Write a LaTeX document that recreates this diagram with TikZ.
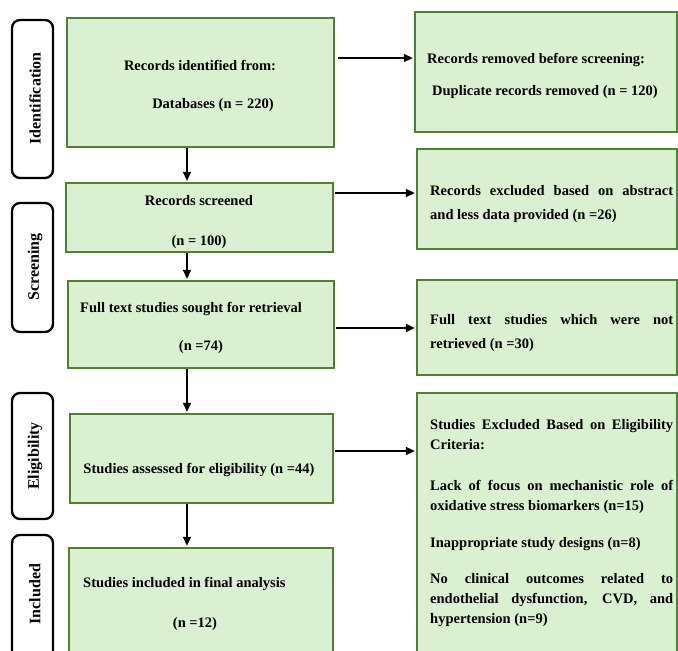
\documentclass[tikz,border=0pt]{standalone}
\usepackage{fontspec}
\setmainfont{Liberation Serif}
\usetikzlibrary{arrows.meta}
\definecolor{boxfill}{RGB}{219,240,208}
\definecolor{boxline}{RGB}{80,128,50}
\begin{document}
\begin{tikzpicture}[x=1pt,y=-1pt,
  box/.style={draw=boxline, fill=boxfill, line width=2.3pt, inner sep=0pt},
  phase/.style={draw=black, line width=2.3pt, rounded corners=8pt, inner sep=0pt, minimum width=41pt},
  lbl/.style={font=\bfseries\fontsize{14.5}{20}\selectfont, inner sep=0pt},
  plbl/.style={font=\bfseries\fontsize{16}{20}\selectfont, inner sep=0pt, rotate=90},
  rtext/.style={lbl, text width=243pt, align=justify},
  arr/.style={-{Triangle[length=9pt,width=8pt]}, line width=1.4pt, black, shorten >=1pt}
]
\useasboundingbox (0,0) rectangle (678,651);
\clip (0,0) rectangle (678,651);

% phase labels
\node[phase, minimum height=158pt] (p1) at (32.5,99) {};
\node[phase, minimum height=129pt] (p2) at (32.5,267.5) {};
\node[phase, minimum height=126pt] (p3) at (32.5,456) {};
\node[phase, minimum height=145pt] (p4) at (32.5,607.5) {};
\node[plbl] (p1t) at (35,98.5) {Identification};
\node[plbl] (p2t) at (35,267) {Screening};
\node[plbl] (p3t) at (35,456) {Eligibility};
\node[plbl] (p4t) at (35,594) {Included};

% left boxes
\node[box, minimum width=267pt, minimum height=129pt] (b1) at (200.5,82.5) {};
\node[box, minimum width=267pt, minimum height=69pt] (b2) at (199.5,217.5) {};
\node[box, minimum width=266pt, minimum height=87pt] (b3) at (201,324.5) {};
\node[box, minimum width=263pt, minimum height=89pt] (b4) at (201.5,458.5) {};
\node[box, minimum width=264pt, minimum height=132pt] (b5) at (201,614) {};

% right boxes
\node[box, minimum width=262pt, minimum height=120pt] (r1) at (546,72) {};
\node[box, minimum width=260pt, minimum height=100pt] (r2) at (547,199) {};
\node[box, minimum width=260pt, minimum height=95pt] (r3) at (547,327.5) {};
\node[box, minimum width=260pt, minimum height=287pt] (r4) at (547,536.5) {};

% left texts
\node[lbl, anchor=base] (b1a) at (200,70) {Records identified from:};
\node[lbl, anchor=base] (b1b) at (213,108) {Databases (n = 220)};
\node[lbl, anchor=base] (b2a) at (199,205) {Records screened};
\node[lbl, anchor=base] (b2b) at (199,245) {(n = 100)};
\node[lbl, anchor=base west] (b3a) at (80,312) {Full text studies sought for retrieval};
\node[lbl, anchor=base] (b3b) at (201,350) {(n =74)};
\node[lbl, anchor=base] (b4a) at (199,473) {Studies assessed for eligibility (n =44)};
\node[lbl, anchor=base west] (b5a) at (83,587) {Studies included in final analysis};
\node[lbl, anchor=base] (b5b) at (195,627) {(n =12)};

% right texts
\node[lbl, anchor=base west] (r1a) at (427,63) {Records removed before screening:};
\node[lbl, anchor=base west] (r1b) at (432,95) {Duplicate records removed (n = 120)};
\node[rtext, anchor=north west, font=\bfseries\fontsize{14.5}{23.5}\selectfont] (r2t) at (430,185.5)
  {Records excluded based on abstract\linebreak and less data provided (n =26)};
\node[rtext, anchor=north west, font=\bfseries\fontsize{14.5}{24}\selectfont] (r3t) at (430,314.5)
  {Full text studies which were not\linebreak retrieved (n =30)};
\node[rtext, anchor=north west] (r4t) at (430,419.5)
  {Studies Excluded Based on Eligibility\linebreak Criteria:\\[21pt]
   Lack of focus on mechanistic role of\linebreak oxidative stress biomarkers (n=15)\\[17pt]
   Inappropriate study designs (n=8)\\[16pt]
   No clinical outcomes related to\linebreak endothelial dysfunction, CVD, and\linebreak hypertension (n=9)};

% vertical arrows
\coordinate (vx) at (187,0);
\draw[arr] (b1.south -| vx) -- (b2.north -| vx);
\draw[arr] (b2.south -| vx) -- (b3.north -| vx);
\draw[arr] (b3.south -| vx) -- (b4.north -| vx);
\draw[arr] (b4.south -| vx) -- (b5.north -| vx);

% horizontal arrows
\coordinate (h1) at (0,58);
\coordinate (h2) at (0,193);
\coordinate (h3) at (0,328);
\coordinate (h4) at (0,451);
\draw[arr, shorten <=3pt] (b1.east |- h1) -- (r1.west |- h1);
\draw[arr, shorten <=1pt] (b2.east |- h2) -- (r2.west |- h2);
\draw[arr, shorten <=1pt] (b3.east |- h3) -- (r3.west |- h3);
\draw[arr, shorten <=1pt] (b4.east |- h4) -- (r4.west |- h4);
\end{tikzpicture}
\end{document}
